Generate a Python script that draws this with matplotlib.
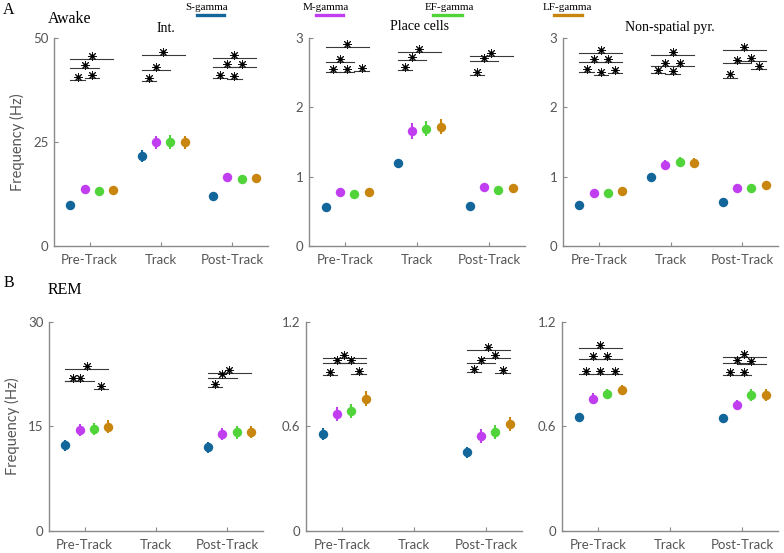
import numpy as np
import matplotlib
matplotlib.use('Agg')
import matplotlib.pyplot as plt
from matplotlib.lines import Line2D
from matplotlib import transforms

groups = ['Pre-Track', 'Track', 'Post-Track']
bands = ['S-gamma', 'M-gamma', 'EF-gamma', 'LF-gamma']
band_colors = ['#12669a', '#c03ef0', '#50d43a', '#c8860f']

nan = np.nan

# rows = groups (Pre, Track, Post), cols = bands (S, M, EF, LF)
awake_int = [[9.8, 13.6, 13.3, 13.5], [21.7, 24.9, 25.0, 24.9], [12.0, 16.7, 16.0, 16.3]]
awake_int_err = [[0.4, 0.5, 0.5, 0.5], [1.4, 1.6, 1.6, 1.6], [0.5, 0.6, 0.5, 0.5]]
awake_pc = [[0.56, 0.78, 0.75, 0.78], [1.19, 1.66, 1.69, 1.72], [0.58, 0.85, 0.81, 0.84]]
awake_pc_err = [[0.02, 0.05, 0.05, 0.05], [0.04, 0.11, 0.11, 0.11], [0.02, 0.04, 0.04, 0.04]]
awake_ns = [[0.59, 0.77, 0.76, 0.80], [1.00, 1.17, 1.21, 1.20], [0.63, 0.84, 0.83, 0.88]]
awake_ns_err = [[0.02, 0.03, 0.03, 0.03], [0.03, 0.07, 0.07, 0.07], [0.02, 0.03, 0.03, 0.03]]

rem_int = [[12.3, 14.5, 14.6, 14.95], [nan, nan, nan, nan], [12.0, 13.9, 14.15, 14.2]]
rem_int_err = [[0.8, 0.9, 0.9, 0.9], [nan, nan, nan, nan], [0.8, 0.9, 0.9, 0.9]]
rem_pc = [[0.556, 0.669, 0.686, 0.759], [nan, nan, nan, nan], [0.451, 0.545, 0.569, 0.615]]
rem_pc_err = [[0.035, 0.04, 0.04, 0.045], [nan, nan, nan, nan], [0.03, 0.04, 0.04, 0.04]]
rem_ns = [[0.652, 0.759, 0.787, 0.808], [nan, nan, nan, nan], [0.646, 0.722, 0.778, 0.778]]
rem_ns_err = [[0.025, 0.03, 0.03, 0.03], [nan, nan, nan, nan], [0.025, 0.03, 0.035, 0.035]]

# significant pairs: (group, band i, band j, height of bar)
awake_int_sig = [(0, 0, 3, 44.9), (0, 0, 2, 42.8), (0, 0, 1, 40.0), (0, 1, 2, 40.3),
                 (1, 0, 3, 46.0), (1, 0, 2, 42.4), (1, 0, 1, 39.6),
                 (2, 0, 3, 45.2), (2, 0, 2, 43.1), (2, 1, 3, 43.1), (2, 0, 1, 40.4), (2, 1, 2, 40.1)]
awake_pc_sig = [(0, 0, 3, 2.87), (0, 0, 2, 2.65), (0, 0, 1, 2.51), (0, 1, 2, 2.51), (0, 2, 3, 2.53),
                (1, 0, 3, 2.80), (1, 0, 2, 2.68), (1, 0, 1, 2.54),
                (2, 0, 3, 2.74), (2, 0, 2, 2.67), (2, 0, 1, 2.46)]
awake_ns_sig = [(0, 0, 3, 2.79), (0, 0, 2, 2.65), (0, 1, 3, 2.65), (0, 0, 1, 2.51), (0, 1, 2, 2.47), (0, 2, 3, 2.50),
                (1, 0, 3, 2.75), (1, 0, 2, 2.60), (1, 1, 3, 2.60), (1, 0, 1, 2.50), (1, 1, 2, 2.48),
                (2, 0, 3, 2.83), (2, 0, 2, 2.645), (2, 1, 3, 2.67), (2, 0, 1, 2.43), (2, 2, 3, 2.55)]
rem_int_sig = [(0, 0, 3, 23.2), (0, 0, 2, 21.45), (0, 0, 1, 21.45), (0, 2, 3, 20.3),
               (2, 0, 3, 22.7), (2, 0, 2, 22.0), (2, 0, 1, 20.6)]
rem_pc_sig = [(0, 0, 3, 0.994), (0, 0, 2, 0.961), (0, 1, 3, 0.961), (0, 0, 1, 0.895), (0, 2, 3, 0.90),
              (2, 0, 3, 1.038), (2, 0, 2, 0.961), (2, 1, 3, 0.99), (2, 0, 1, 0.91), (2, 2, 3, 0.908)]
rem_ns_sig = [(0, 0, 3, 1.047), (0, 0, 2, 0.984), (0, 1, 3, 0.984), (0, 0, 1, 0.90), (0, 1, 2, 0.90), (0, 2, 3, 0.90),
              (2, 0, 3, 0.996), (2, 0, 2, 0.965), (2, 1, 3, 0.955), (2, 0, 1, 0.893), (2, 1, 2, 0.893)]

offsets = [-0.27, -0.07, 0.13, 0.33]
serif = ['Liberation Serif', 'DejaVu Serif']
plt.rcParams['font.family'] = ['Lato', 'DejaVu Sans']

W, H = 784, 553
fig = plt.figure(figsize=(W / 100, H / 100), dpi=100)


def px_axes(x0, y0, x1, y1):
    return fig.add_axes([x0 / W, 1 - y1 / H, (x1 - x0) / W, (y1 - y0) / H])


def draw_panel(ax, means, errs, sig, ylim, yticks, ylabel=False):
    for b in range(4):
        xs = np.arange(1, 4) + offsets[b]
        m = np.array([row[b] for row in means], dtype=float)
        e = np.array([row[b] for row in errs], dtype=float)
        ax.errorbar(xs, m, yerr=e, fmt='o', color=band_colors[b], ms=6.8,
                    elinewidth=1.5, capsize=0, mec='none', zorder=3)
    star_tr = transforms.offset_copy(ax.transData, fig=fig, y=2.2, units='points')
    for g, i, j, y in sig:
        x0 = g + 1 + offsets[i]
        x1 = g + 1 + offsets[j]
        ax.plot([x0, x1], [y, y], color='#3a3a3a', lw=0.8, zorder=2)
        ax.plot((x0 + x1) / 2, y, marker=(8, 2, 0), ms=6.3, color='#111111', mew=0.7,
                transform=star_tr, zorder=4)
        ax.plot((x0 + x1) / 2, y, 'o', ms=2, color='k', transform=star_tr, zorder=4)
    ax.set_xlim(0.5, 3.5)
    ax.set_ylim(*ylim)
    ax.set_xticks([1, 2, 3])
    ax.set_xticklabels(groups)
    ax.set_yticks(yticks)
    ax.set_yticklabels([f'{t:g}' for t in yticks])
    for s in ['top', 'right']:
        ax.spines[s].set_visible(False)
    for s in ['left', 'bottom']:
        ax.spines[s].set_color('#8a8a8a')
        ax.spines[s].set_linewidth(1.0)
    ax.tick_params(direction='in', length=3, color='#8a8a8a', labelcolor='#555555', labelsize=9.5)
    ax.tick_params(axis='x', pad=6)
    ax.tick_params(axis='y', pad=4)
    if ylabel:
        ax.set_ylabel('Frequency (Hz)', color='#555555', fontsize=10.5, labelpad=6)


a1 = px_axes(54, 38, 268, 246)
a2 = px_axes(309, 38, 525, 246)
a3 = px_axes(563, 38, 778, 246)
b1 = px_axes(49, 321.7, 263, 531)
b2 = px_axes(306, 321.7, 522, 531)
b3 = px_axes(562, 321.7, 778, 531)

draw_panel(a1, awake_int, awake_int_err, awake_int_sig, (0, 50), [0, 25, 50], ylabel=True)
draw_panel(a2, awake_pc, awake_pc_err, awake_pc_sig, (0, 3), [0, 1, 2, 3])
draw_panel(a3, awake_ns, awake_ns_err, awake_ns_sig, (0, 3), [0, 1, 2, 3])
draw_panel(b1, rem_int, rem_int_err, rem_int_sig, (0, 30), [0, 15, 30], ylabel=True)
draw_panel(b2, rem_pc, rem_pc_err, rem_pc_sig, (0, 1.2), [0, 0.6, 1.2])
draw_panel(b3, rem_ns, rem_ns_err, rem_ns_sig, (0, 1.2), [0, 0.6, 1.2])


def ftext(x, y, s, size, ha='center'):
    fig.text(x / W, 1 - y / H, s, ha=ha, va='center', fontsize=size, family=serif, color='k')


ftext(9, 10, 'A', 11.5)
ftext(48, 19, 'Awake', 11.5, ha='left')
ftext(9, 283, 'B', 11.5)
ftext(48, 290, 'REM', 11.5, ha='left')
ftext(166, 28, 'Int.', 10)
ftext(420, 27, 'Place cells', 10)
ftext(670, 28, 'Non-spatial pyr.', 10)

legend_text_x = [207, 326, 449, 567.5]
legend_line_x = [(196.7, 224), (316, 343.3), (433.3, 461.7), (554.3, 582.3)]
for name, c, tx, (lx0, lx1) in zip(bands, band_colors, legend_text_x, legend_line_x):
    ftext(tx, 7, name, 8)
    fig.add_artist(Line2D([lx0 / W, lx1 / W], [1 - 15 / H, 1 - 15 / H], color=c, lw=2.4,
                          transform=fig.transFigure))

fig.savefig('out.png', dpi=100)
